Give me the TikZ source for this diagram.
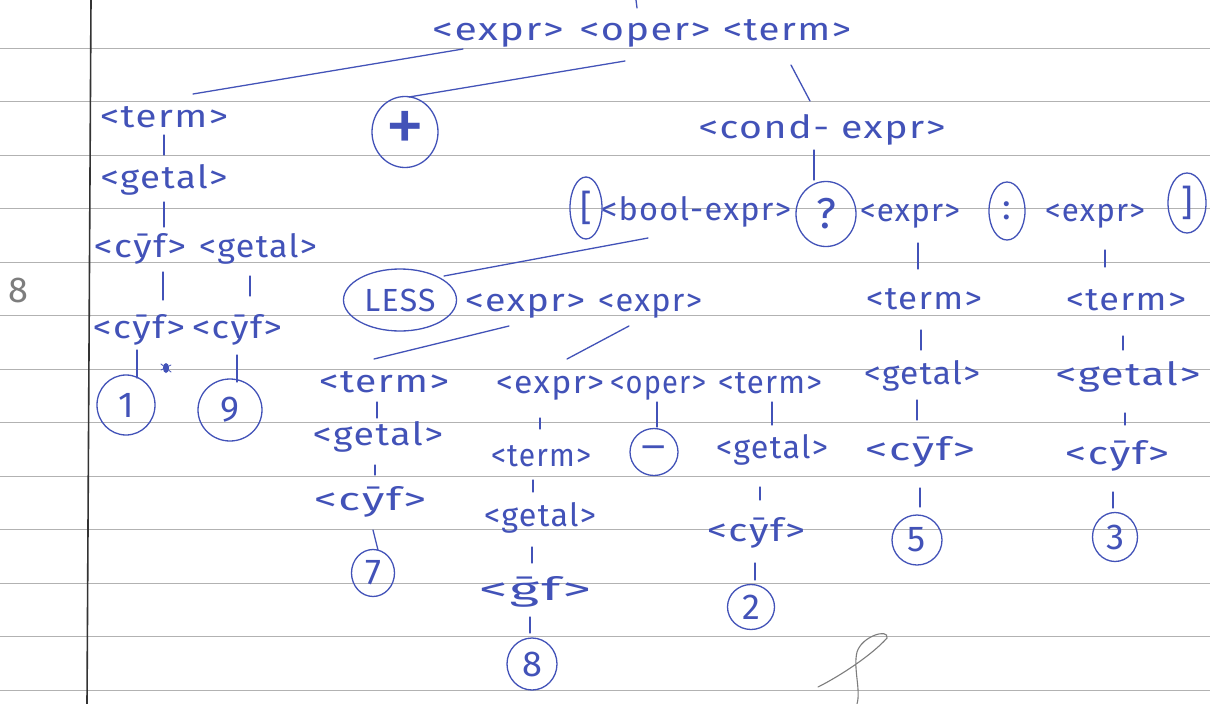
\documentclass[tikz,border=0pt]{standalone}
\usepackage{fontspec}
\setmainfont{Fira Sans}[LetterSpace=4]
\usepackage{graphicx}
\usetikzlibrary{shapes.geometric}
\definecolor{inkc}{RGB}{66,82,184}
\definecolor{rulec}{RGB}{178,178,178}
\definecolor{pencilc}{RGB}{125,125,125}
\newcommand\lblfont{\fontsize{32}{34}\selectfont}
\newcommand\circfont{\fontsize{36}{38}\selectfont}
\newcommand\lw[2]{\resizebox{#1pt}{\height}{#2}}
\newcommand\lnk[6]{\draw[ink] ([shift={(#2,#3)}]#1.center) -- ([shift={(#5,#6)}]#4.center);}
\tikzset{
  ink/.style={draw=inkc, line width=1.3pt, line cap=round},
  lbl/.style={text=inkc, inner sep=0pt, font=\lblfont, text height=24pt, text depth=8pt},
  circ/.style={ellipse, draw=inkc, line width=1.3pt, text=inkc, inner sep=0pt, font=\circfont},
  cs/.style 2 args={minimum width=#1pt, minimum height=#2pt},
  ruleline/.style={draw=rulec, line width=0.9pt},
  marginline/.style={draw=black!80, line width=1.6pt},
  pencil/.style={draw=pencilc, line width=1.1pt, line cap=round},
}
\begin{document}
\begin{tikzpicture}[x=1pt,y=-1pt]
\fill[white] (0,0) rectangle (1210,704);
\useasboundingbox (0,0) rectangle (1210,704);
% ruled paper
\foreach \k in {0,...,12} \draw[ruleline] (0,{48+53.5*\k}) -- (1210,{48+53.5*\k});
\draw[marginline] (91,0) -- (87,704);
% pencil marks
\node[text=pencilc, inner sep=0pt, font=\fontsize{36}{38}\selectfont] (pen8) at (18,290) {8};
\draw[pencil] (818,687) .. controls (840,676) and (872,655) .. (887,638)
  .. controls (889,628) and (862,636) .. (857,652)
  .. controls (853,668) and (861,690) .. (857,704);
% small ink marks
\draw[ink] (636,0) -- (637,8);
\fill[inkc] (166,368) ellipse (3 and 5);
\draw[ink, line width=0.8pt] (161,364) -- (171,372) (161,370) -- (171,365);

% top row
\node[lbl] (Texpr) at (498,33) {\lw{131}{<expr>}};
\node[lbl] (Toper) at (645,33) {\lw{131}{<oper>}};
\node[lbl] (Tterm) at (787,33) {\lw{128}{<term>}};
% second row
\node[lbl] (Aterm) at (164,119) {\lw{128}{<term>}};
\node[circ, cs={66}{71}] (plus) at (405,132) {\scalebox{2.2}{+}};
\node[lbl] (cond) at (822,130) {\lw{247}{<cond- expr>}};
\node[lbl] (Agetal) at (164,180) {\lw{127}{<getal>}};
% conditional row
\node[circ, cs={32}{62}] (lbr) at (586,208) {[};
\node[lbl] (bool) at (696,212) {\lw{190}{<bool-expr>}};
\node[circ, cs={60}{65}] (qm) at (826,214) {\scalebox{1.2}{?}};
\node[lbl] (Ee1) at (910,213) {\lw{100}{<expr>}};
\node[circ, cs={36}{58}] (colon) at (1007,211) {:};
\node[lbl] (Ee2) at (1095,213) {\lw{100}{<expr>}};
\node[circ, cs={38}{60}] (rbr) at (1187,203) {]};
% left branch
\node[lbl] (Acyf) at (140,249) {\lw{92}{<c\=yf>}};
\node[lbl] (Agetal2) at (258,249) {\lw{118}{<getal>}};
\node[lbl] (Acyf2) at (139,330) {\lw{92}{<c\=yf>}};
\node[lbl] (Acyf3) at (237,330) {\lw{90}{<c\=yf>}};
\node[circ, cs={58}{60}] (one) at (126,405) {1};
\node[circ, cs={64}{62}] (nine) at (230,410) {9};
% LESS row
\node[circ, cs={113}{62}, font=\lblfont] (less) at (400,300) {LESS};
\node[lbl] (Le1) at (525,303) {\lw{120}{<expr>}};
\node[lbl] (Le2) at (650,303) {\lw{104}{<expr>}};
\node[lbl] (Rterm1) at (924,301) {\lw{116}{<term>}};
\node[lbl] (Rterm2) at (1126,302) {\lw{120}{<term>}};
% row 384
\node[lbl] (Bterm) at (384,384) {\lw{130}{<term>}};
\node[lbl] (Cexpr) at (550,385) {\lw{108}{<expr>}};
\node[lbl] (Coper) at (658,385) {\lw{96}{<oper>}};
\node[lbl] (Cterm) at (770,385) {\lw{104}{<term>}};
\node[lbl] (Rgetal1) at (922,376) {\lw{116}{<getal>}};
\node[lbl] (Rgetal2) at (1128,377) {\lw{145}{<getal>}};
% row 440-460
\node[lbl] (Bgetal) at (378,437) {\lw{130}{<getal>}};
\node[lbl] (Cterm2) at (541,458) {\lw{100}{<term>}};
\node[circ, cs={48}{47}] (minus) at (654,452) {\raisebox{-5pt}{\scalebox{1.3}[1]{–}}};
\node[lbl] (Cgetal) at (772,450) {\lw{112}{<getal>}};
\node[lbl] (Rcyf1) at (920,452) {\lw{110}{<c\=yf>}};
\node[lbl] (Rcyf2) at (1117,456) {\lw{104}{<c\=yf>}};
% row 500-540
\node[lbl] (Bcyf) at (370,502) {\lw{112}{<c\=yf>}};
\node[lbl] (Cgetal2) at (540,518) {\lw{112}{<getal>}};
\node[lbl] (Ccyf) at (756,533) {\lw{98}{<c\=yf>}};
\node[circ, cs={50}{50}] (five) at (917,540) {5};
\node[circ, cs={45}{49}] (three) at (1115,537) {3};
\node[circ, cs={43}{47}] (seven) at (373,573) {7};
\node[lbl] (Cgf) at (535,592) {\lw{112}{<\=gf>}};
\node[circ, cs={47}{45}] (two) at (751,607) {2};
\node[circ, cs={50}{52}] (eight) at (532,664) {8};

% connectors
\lnk{Texpr}{-35}{16}{Aterm}{29}{-25}
\lnk{Toper}{-20}{28}{plus}{4}{-35}
\lnk{Tterm}{4}{32}{cond}{-12}{-29}
\lnk{Aterm}{0}{16}{Agetal}{0}{-25}
\lnk{Agetal}{0}{22}{Acyf}{24}{-22}
\lnk{cond}{-8}{20}{qm}{-12}{-34}
\lnk{bool}{-48}{26}{less}{44}{-24}
\lnk{Acyf}{23}{23}{Acyf2}{24}{-30}
\lnk{Agetal2}{-8}{27}{Acyf3}{13}{-34}
\lnk{Acyf2}{-2}{20}{one}{11}{-27}
\lnk{Acyf3}{0}{25}{nine}{7}{-28}
\lnk{Ee1}{8}{30}{Rterm1}{-6}{-32}
\lnk{Ee2}{10}{37}{Rterm2}{-21}{-35}
\lnk{Le1}{-16}{23}{Bterm}{-10}{-25}
\lnk{Le2}{-21}{23}{Cexpr}{17}{-26}
\lnk{Rterm1}{-3}{29}{Rgetal1}{-1}{-26}
\lnk{Rterm2}{-3}{34}{Rgetal2}{-5}{-27}
\lnk{Bterm}{-7}{18}{Bgetal}{-1}{-19}
\lnk{Cexpr}{-10}{33}{Cterm2}{-1}{-29}
\lnk{Coper}{-1}{17}{minus}{3}{-25}
\lnk{Cterm}{2}{17}{Cgetal}{0}{-25}
\lnk{Rgetal1}{-5}{24}{Rcyf1}{-3}{-32}
\lnk{Rgetal2}{-3}{36}{Rcyf2}{8}{-31}
\lnk{Bgetal}{-3}{28}{Bcyf}{5}{-27}
\lnk{Cterm2}{-8}{22}{Cgetal2}{-7}{-26}
\lnk{Cgetal}{-12}{37}{Ccyf}{4}{-33}
\lnk{Rcyf1}{0}{36}{five}{3}{-33}
\lnk{Rcyf2}{-4}{36}{three}{-2}{-29}
\lnk{Bcyf}{3}{28}{seven}{5}{-23}
\lnk{Cgetal2}{-8}{29}{Cgf}{-3}{-29}
\lnk{Ccyf}{-1}{30}{two}{4}{-27}
\lnk{Cgf}{-5}{25}{eight}{-2}{-31}
\end{tikzpicture}
\end{document}
